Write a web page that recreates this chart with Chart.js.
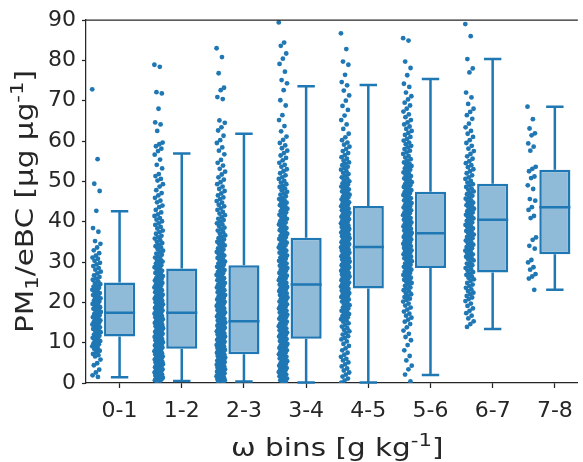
<!DOCTYPE html>
<html>
<head>
<meta charset="utf-8">
<script src="https://cdn.jsdelivr.net/npm/chart.js@4.4.0/dist/chart.umd.min.js"></script>
<style>
  html, body { margin: 0; padding: 0; background: #fff; overflow: hidden; }
</style>
</head>
<body>
<canvas id="myChart" width="583" height="462"></canvas>
<script>
// omega bins and box statistics
var bins = ['0-1', '1-2', '2-3', '3-4', '4-5', '5-6', '6-7', '7-8'];
var whiskerLow  = [1.4, 0.5, 0.4, 0.1, 0.1, 2.0, 13.4, 23.1];
var q1          = [11.5, 8.5, 7.1, 11.0, 23.4, 28.5, 27.4, 31.9];
var median      = [17.4, 17.4, 15.3, 24.4, 33.7, 37.1, 40.5, 43.6];
var q3          = [24.9, 28.4, 29.2, 36.0, 43.9, 47.4, 49.4, 52.9];
var whiskerHigh = [42.6, 56.9, 61.8, 73.6, 73.9, 75.4, 80.3, 68.5];
var yTicks = [0, 10, 20, 30, 40, 50, 60, 70, 80, 90];

// PM1/eBC samples per bin
var omega01 = [72.8, 55.5, 49.4, 47.6, 42.7, 38.4, 37.5, 35.2, 34.5, 33.6, 32.9, 32.2, 31.6, 31.1, 30.8, 30.3, 29.8, 29.4, 29.0, 28.5, 28.1, 27.6, 27.2, 26.7, 26.3, 25.9, 25.6, 25.2, 24.8, 24.5, 24.2, 23.9, 23.6, 23.4, 23.1, 22.7, 22.6, 22.3, 22.0, 21.8, 21.5, 21.1, 21.0, 20.7, 20.4, 20.2, 19.9, 19.6, 19.4, 19.1, 18.8, 18.6, 18.4, 18.1, 17.9, 17.6, 17.4, 17.1, 16.8, 16.7, 16.3, 16.2, 15.9, 15.5, 15.4, 15.1, 14.9, 14.8, 14.5, 14.3, 14.0, 13.8, 13.5, 13.4, 13.1, 12.9, 12.6, 12.2, 12.0, 11.7, 11.3, 11.2, 10.9, 10.5, 10.4, 10.1, 9.8, 9.6, 9.3, 9.1, 8.7, 8.4, 8.0, 7.7, 7.2, 6.9, 6.6, 5.8, 4.9, 4.4, 3.3, 2.6, 1.9, 1.5];
var omega12 = [78.9, 78.4, 72.1, 71.8, 68.0, 64.6, 64.1, 62.5, 59.6, 59.2, 58.7, 58.1, 57.5, 56.6, 55.4, 54.1, 53.2, 51.8, 51.3, 50.6, 50.2, 49.3, 48.7, 47.8, 47.1, 46.5, 45.9, 45.2,
  44.8, 44.0, 43.6, 42.9, 42.3, 41.8, 41.4, 40.9, 40.5, 40.1,
  39.6, 39.2, 38.7, 38.3, 37.8, 37.4, 37.0, 36.5, 36.1, 35.8, 35.4, 35.0,
  34.7, 34.3, 33.9, 33.6, 33.2, 32.8, 32.5, 32.1, 31.8, 31.4, 31.1, 30.7, 30.4, 30.1,
  29.8, 29.6, 29.2, 28.9, 28.7, 28.4, 28.1, 27.8, 27.5, 27.3, 27.0, 26.8, 26.5, 26.2, 26.0, 25.8, 25.6, 25.4, 25.2, 25.0,
  24.8, 24.6, 24.3, 24.1, 23.9, 23.7, 23.4, 23.2, 23.0, 22.8, 22.5, 22.3, 22.1, 21.9, 21.7, 21.5, 21.3, 21.1, 20.9, 20.7, 20.5, 20.4, 20.2, 20.0,
  19.8, 19.7, 19.5, 19.3, 19.1, 18.9, 18.8, 18.6, 18.4, 18.2, 18.0, 17.9, 17.7, 17.5, 17.3, 17.2, 17.0, 16.8, 16.6, 16.5, 16.3, 16.1, 15.9, 15.8, 15.6, 15.4, 15.2, 15.1,
  14.9, 14.7, 14.6, 14.4, 14.2, 14.1, 13.9, 13.7, 13.6, 13.4, 13.2, 13.1, 12.9, 12.7, 12.6, 12.4, 12.2, 12.1, 11.9, 11.7, 11.6, 11.4, 11.2, 11.1, 10.9, 10.7, 10.6, 10.4, 10.2, 10.1,
  9.9, 9.8, 9.6, 9.4, 9.3, 9.1, 8.9, 8.8, 8.6, 8.4, 8.3, 8.1, 7.9, 7.8, 7.6, 7.4, 7.3, 7.1, 6.9, 6.8, 6.6, 6.4, 6.3, 6.1, 5.9, 5.8, 5.6, 5.4, 5.3, 5.2, 5.1, 5.0,
  4.9, 4.7, 4.6, 4.4, 4.3, 4.1, 3.9, 3.8, 3.6, 3.4, 3.3, 3.1, 2.9, 2.8, 2.6, 2.4, 2.3, 2.1, 1.9, 1.8, 1.6, 1.5, 1.3, 1.2, 1.0, 0.9, 0.8, 0.7, 0.6, 0.5];
var omega23 = [83.0, 80.8, 76.8, 73.2, 72.6, 70.9, 70.4, 65.1, 64.5, 63.4, 62.6, 61.3, 60.2, 59.5, 58.4, 57.6, 56.7, 55.3, 54.6, 53.9, 53.1, 52.4, 51.7, 51.0, 50.4,
  49.8, 49.3, 48.7, 48.1, 47.6, 47.0, 46.5, 46.0, 45.6, 45.1,
  44.7, 44.2, 43.8, 43.3, 42.9, 42.4, 42.0, 41.6, 41.1, 40.7, 40.4, 40.0,
  39.6, 39.3, 38.9, 38.5, 38.1, 37.8, 37.4, 37.0, 36.6, 36.3, 35.9, 35.6, 35.3, 35.0,
  34.7, 34.4, 34.1, 33.7, 33.4, 33.1, 32.8, 32.5, 32.2, 31.9, 31.6, 31.3, 31.0, 30.7, 30.4, 30.1,
  29.8, 29.6, 29.3, 29.1, 28.8, 28.6, 28.3, 28.0, 27.8, 27.5, 27.3, 27.0, 26.8, 26.5, 26.2, 26.0, 25.7, 25.5, 25.3, 25.1,
  24.8, 24.6, 24.4, 24.1, 23.9, 23.7, 23.5, 23.2, 23.0, 22.8, 22.5, 22.3, 22.1, 21.8, 21.6, 21.4, 21.1, 20.9, 20.7, 20.5, 20.3, 20.1,
  19.9, 19.7, 19.5, 19.3, 19.1, 18.9, 18.7, 18.5, 18.3, 18.1, 17.9, 17.7, 17.5, 17.3, 17.1, 16.9, 16.7, 16.5, 16.3, 16.1, 15.9, 15.7, 15.5, 15.4, 15.2, 15.0,
  14.8, 14.7, 14.5, 14.3, 14.2, 14.0, 13.8, 13.7, 13.5, 13.3, 13.2, 13.0, 12.8, 12.7, 12.5, 12.3, 12.2, 12.0, 11.8, 11.7, 11.5, 11.3, 11.2, 11.0, 10.8, 10.7, 10.5, 10.3, 10.2, 10.0,
  9.9, 9.7, 9.6, 9.4, 9.3, 9.1, 9.0, 8.8, 8.7, 8.5, 8.4, 8.2, 8.1, 7.9, 7.8, 7.6, 7.5, 7.3, 7.2, 7.0, 6.9, 6.7, 6.6, 6.4, 6.3, 6.1, 6.0, 5.8, 5.7, 5.5, 5.4, 5.3, 5.2, 5.0,
  4.9, 4.8, 4.6, 4.5, 4.4, 4.2, 4.1, 4.0, 3.8, 3.7, 3.6, 3.4, 3.3, 3.2, 3.0, 2.9, 2.8, 2.6, 2.5, 2.4, 2.2, 2.1, 2.0, 1.8, 1.7, 1.6, 1.4, 1.3, 1.2, 1.0, 0.9, 0.8, 0.7, 0.6, 0.5, 0.4];
var omega34 = [89.4, 84.4, 83.6, 81.7, 80.4, 79.1, 77.2, 75.1, 74.3, 72.6, 70.1, 68.8, 66.4, 65.2, 63.7, 62.4, 61.1, 60.3,
  59.5, 58.9, 58.2, 57.6, 57.0, 56.4, 55.8, 55.2,
  54.6, 54.1, 53.6, 53.0, 52.5, 52.0, 51.5, 51.0, 50.6, 50.1,
  49.7, 49.3, 48.9, 48.6, 48.2, 47.8, 47.4, 47.0, 46.7, 46.3, 45.9, 45.6, 45.3, 45.0,
  44.7, 44.4, 44.1, 43.8, 43.5, 43.2, 42.9, 42.6, 42.3, 42.0, 41.7, 41.4, 41.0, 40.7, 40.4, 40.1,
  39.8, 39.5, 39.3, 39.0, 38.7, 38.4, 38.2, 37.9, 37.6, 37.3, 37.0, 36.8, 36.5, 36.2, 35.9, 35.7, 35.4, 35.1,
  34.8, 34.6, 34.3, 34.1, 33.8, 33.6, 33.3, 33.1, 32.8, 32.6, 32.3, 32.1, 31.8, 31.6, 31.3, 31.1, 30.8, 30.6, 30.3, 30.1,
  29.8, 29.6, 29.4, 29.1, 28.9, 28.7, 28.5, 28.2, 28.0, 27.8, 27.5, 27.3, 27.1, 26.9, 26.6, 26.4, 26.2, 25.9, 25.7, 25.5, 25.3, 25.0,
  24.8, 24.6, 24.4, 24.2, 24.0, 23.8, 23.6, 23.4, 23.2, 23.0, 22.8, 22.6, 22.4, 22.2, 22.0, 21.8, 21.6, 21.4, 21.2, 21.0, 20.8, 20.6, 20.4, 20.2,
  19.9, 19.7, 19.5, 19.3, 19.1, 18.9, 18.7, 18.5, 18.3, 18.1, 17.9, 17.7, 17.5, 17.3, 17.1, 16.9, 16.7, 16.5, 16.3, 16.1, 15.9, 15.7, 15.5, 15.2,
  14.9, 14.7, 14.5, 14.3, 14.1, 13.9, 13.7, 13.5, 13.3, 13.1, 12.9, 12.7, 12.5, 12.3, 12.1, 11.9, 11.7, 11.5, 11.3, 11.1, 10.9, 10.7, 10.4, 10.2,
  9.9, 9.7, 9.5, 9.3, 9.1, 8.9, 8.7, 8.5, 8.3, 8.1, 7.9, 7.7, 7.5, 7.3, 7.1, 6.9, 6.7, 6.5, 6.3, 6.1, 5.9, 5.7, 5.4, 5.2,
  4.9, 4.7, 4.5, 4.3, 4.1, 3.9, 3.7, 3.5, 3.3, 3.1, 2.9, 2.7, 2.5, 2.3, 2.1, 1.9, 1.7, 1.5, 1.3, 1.1, 0.9, 0.7, 0.4, 0.1];
var omega45 = [86.7, 82.8, 79.7, 78.9, 76.4, 74.6, 73.8, 72.5, 71.3, 70.0, 68.7, 67.7, 66.3, 65.2, 64.1, 63.0, 61.8, 60.9, 60.2,
  59.6, 59.1, 58.6, 58.0, 57.5, 57.0, 56.5, 56.0, 55.6, 55.1,
  54.7, 54.4, 54.0, 53.6, 53.3, 52.9, 52.5, 52.1, 51.8, 51.4, 51.0, 50.7, 50.3, 50.0,
  49.7, 49.5, 49.2, 49.0, 48.7, 48.5, 48.2, 48.0, 47.7, 47.5, 47.2, 47.0, 46.7, 46.5, 46.2, 46.0, 45.7, 45.5, 45.2, 45.0,
  44.8, 44.6, 44.4, 44.2, 44.0, 43.8, 43.6, 43.4, 43.2, 43.0, 42.8, 42.6, 42.4, 42.2, 42.0, 41.8, 41.6, 41.4, 41.2, 41.0, 40.8, 40.6, 40.4, 40.2,
  39.9, 39.7, 39.6, 39.4, 39.2, 39.0, 38.9, 38.7, 38.5, 38.3, 38.2, 38.0, 37.8, 37.6, 37.5, 37.3, 37.1, 36.9, 36.8, 36.6, 36.4, 36.2, 36.1, 35.9, 35.7, 35.5, 35.4, 35.2,
  34.9, 34.8, 34.6, 34.4, 34.3, 34.1, 33.9, 33.8, 33.6, 33.4, 33.3, 33.1, 32.9, 32.8, 32.6, 32.4, 32.3, 32.1, 31.9, 31.8, 31.6, 31.4, 31.3, 31.1, 30.9, 30.8, 30.6, 30.4, 30.3, 30.1,
  29.9, 29.7, 29.6, 29.4, 29.2, 29.0, 28.9, 28.7, 28.5, 28.3, 28.2, 28.0, 27.8, 27.6, 27.5, 27.3, 27.1, 26.9, 26.8, 26.6, 26.4, 26.2, 26.1, 25.9, 25.7, 25.5, 25.4, 25.2,
  24.9, 24.7, 24.5, 24.3, 24.1, 23.9, 23.7, 23.5, 23.3, 23.1, 22.9, 22.7, 22.5, 22.3, 22.1, 21.9, 21.7, 21.5, 21.3, 21.1, 20.9, 20.7, 20.5, 20.2,
  19.8, 19.5, 19.3, 19.0, 18.7, 18.5, 18.2, 17.9, 17.7, 17.4, 17.1, 16.9, 16.6, 16.3, 16.1, 15.8, 15.5, 15.2,
  14.8, 14.4, 14.0, 13.6, 13.2, 12.8, 12.4, 12.0, 11.6, 11.2, 10.8, 10.3,
  9.7, 9.2, 8.6, 8.1, 7.5, 7.0, 6.5, 6.0, 5.6, 5.1,
  4.6, 4.1, 3.6, 3.1, 2.6, 2.1, 1.6, 1.1, 0.6, 0.1];
var omega56 = [85.5, 84.9, 79.7, 78.1, 76.3, 74.2, 73.4, 72.0, 71.1, 70.3,
  69.5, 68.8, 68.0, 67.3, 66.6, 65.9, 65.2,
  64.6, 64.1, 63.6, 63.0, 62.5, 62.0, 61.5, 61.0, 60.5, 60.1,
  59.6, 59.2, 58.8, 58.4, 58.0, 57.6, 57.2, 56.8, 56.3, 55.9, 55.5, 55.1,
  54.7, 54.4, 54.1, 53.8, 53.5, 53.2, 52.9, 52.6, 52.2, 51.9, 51.6, 51.3, 51.0, 50.7, 50.4, 50.1,
  49.8, 49.6, 49.3, 49.1, 48.8, 48.6, 48.3, 48.1, 47.8, 47.6, 47.3, 47.1, 46.8, 46.6, 46.3, 46.1, 45.8, 45.6, 45.3, 45.1,
  44.8, 44.6, 44.4, 44.1, 43.9, 43.7, 43.5, 43.2, 43.0, 42.8, 42.5, 42.3, 42.1, 41.8, 41.6, 41.4, 41.2, 40.9, 40.7, 40.5, 40.3, 40.1,
  39.8, 39.6, 39.4, 39.2, 39.0, 38.8, 38.6, 38.4, 38.2, 38.0, 37.8, 37.6, 37.4, 37.2, 37.0, 36.8, 36.6, 36.4, 36.2, 36.0, 35.8, 35.6, 35.4, 35.2,
  34.9, 34.7, 34.5, 34.3, 34.1, 33.9, 33.7, 33.5, 33.3, 33.1, 32.9, 32.7, 32.5, 32.3, 32.1, 31.9, 31.7, 31.5, 31.3, 31.1, 30.9, 30.7, 30.5, 30.2,
  29.8, 29.6, 29.3, 29.1, 28.8, 28.6, 28.3, 28.1, 27.8, 27.6, 27.3, 27.1, 26.8, 26.6, 26.3, 26.1, 25.8, 25.6, 25.3, 25.1,
  24.8, 24.4, 24.1, 23.7, 23.4, 23.0, 22.7, 22.3, 22.0, 21.6, 21.3, 20.9, 20.6, 20.2,
  19.7, 19.2, 18.7, 18.2, 17.7, 17.2, 16.7, 16.2, 15.7, 15.2,
  14.6, 13.8, 13.0, 12.2, 11.4, 10.6,
  9.4, 8.1, 6.7, 5.6, 4.3, 3.4, 2.1, 0.4];
var omega67 = [89.0, 86.0, 80.3, 78.0, 77.0, 72.0, 70.8, 69.2, 68.0, 67.2, 66.4, 65.5,
  64.3, 63.4, 62.5, 61.8, 61.0, 60.2,
  59.5, 58.8, 58.1, 57.5, 56.8, 56.2, 55.6, 55.0,
  54.5, 54.0, 53.5, 53.0, 52.5, 52.0, 51.5, 51.0, 50.6, 50.1,
  49.7, 49.3, 49.0, 48.6, 48.2, 47.9, 47.5, 47.1, 46.8, 46.4, 46.0, 45.7, 45.3, 45.0,
  44.7, 44.4, 44.1, 43.8, 43.5, 43.2, 42.9, 42.6, 42.3, 42.0, 41.7, 41.4, 41.1, 40.8, 40.5, 40.2,
  39.8, 39.5, 39.2, 38.9, 38.6, 38.3, 38.0, 37.7, 37.4, 37.1, 36.8, 36.5, 36.2, 35.9, 35.6, 35.3,
  34.9, 34.6, 34.3, 34.0, 33.7, 33.4, 33.1, 32.8, 32.5, 32.2, 31.9, 31.6, 31.3, 31.0, 30.7, 30.4,
  29.9, 29.6, 29.2, 28.9, 28.5, 28.2, 27.8, 27.5, 27.1, 26.8, 26.4, 26.1, 25.7, 25.3,
  24.8, 24.4, 24.0, 23.6, 23.2, 22.8, 22.4, 22.0, 21.6, 21.2, 20.8, 20.3,
  19.7, 19.1, 18.5, 17.9, 17.3, 16.7, 16.0, 15.3, 14.6, 13.9];
var omega78 = [68.5, 65.4, 63.1, 61.9, 61.4, 59.4, 58.6, 57.6, 53.6, 53.1, 52.5, 51.2, 50.8, 49.0, 48.1, 45.6, 45.2, 43.6, 42.9, 41.4, 40.9, 36.1, 35.5, 34.0, 33.3, 30.5, 29.9, 28.7, 28.1, 27.0, 26.4, 25.9, 23.1];
var samples = [omega01, omega12, omega23, omega34, omega45, omega56, omega67, omega78];

// axis titles, split so the scripts can be set smaller
var xTitle = [{ text: 'ω bins [g kg' }, { text: '-1', sup: true }, { text: ']' }];
var yTitle = [{ text: 'PM' }, { text: '1', sub: true }, { text: '/eBC [μg μg' }, { text: '-1', sup: true }, { text: ']' }];

var blue = '#1f77b4';
var boxFill = '#8fbbd9';
var ink = '#262626';
var titleSize = 25;
var titleStretch = 1.18;

// strip sits left of each box, spread a little sideways
var stripOffset = -0.37;
var stripWidth = 0.14;
var stripPoints = [];
samples.forEach(function (vals, b) {
    vals.forEach(function (v, i) {
        var spread = ((i * 0.618034) % 1) - 0.5;
        stripPoints.push({ x: b + stripOffset + spread * stripWidth, y: v });
    });
});

// text centred on the origin, baseline at y = 0, widened along the line
function drawScripted(ctx, parts, size) {
    var small = Math.round(size * 0.7);
    var fontFor = function (p) {
        return (p.sub || p.sup ? small : size) + 'px "DejaVu Sans"';
    };
    var widths = parts.map(function (p) {
        ctx.font = fontFor(p);
        return ctx.measureText(p.text).width;
    });
    var pos = -widths.reduce(function (a, b) { return a + b; }, 0) / 2;
    ctx.scale(titleStretch, 1);
    ctx.fillStyle = ink;
    ctx.textAlign = 'left';
    ctx.textBaseline = 'alphabetic';
    parts.forEach(function (p, i) {
        ctx.font = fontFor(p);
        var shift = p.sub ? size * 0.2 : (p.sup ? -size * 0.42 : 0);
        ctx.fillText(p.text, pos, shift);
        pos += widths[i];
    });
}

// whiskers, caps and median lines on top of the boxes, plus frame and titles
var boxLines = {
    id: 'boxLines',
    afterDatasetsDraw: function (chart) {
        var ctx = chart.ctx, x = chart.scales.x, y = chart.scales.y, area = chart.chartArea;
        ctx.save();
        ctx.strokeStyle = blue;
        ctx.lineWidth = 2.5;
        bins.forEach(function (_, i) {
            var cx = x.getPixelForValue(i);
            var capL = x.getPixelForValue(i - 0.14), capR = x.getPixelForValue(i + 0.14);
            var boxL = x.getPixelForValue(i - 0.25), boxR = x.getPixelForValue(i + 0.25);
            ctx.beginPath();
            ctx.moveTo(cx, y.getPixelForValue(q1[i]));
            ctx.lineTo(cx, y.getPixelForValue(whiskerLow[i]));
            ctx.moveTo(cx, y.getPixelForValue(q3[i]));
            ctx.lineTo(cx, y.getPixelForValue(whiskerHigh[i]));
            ctx.moveTo(capL, y.getPixelForValue(whiskerLow[i]));
            ctx.lineTo(capR, y.getPixelForValue(whiskerLow[i]));
            ctx.moveTo(capL, y.getPixelForValue(whiskerHigh[i]));
            ctx.lineTo(capR, y.getPixelForValue(whiskerHigh[i]));
            ctx.moveTo(boxL, y.getPixelForValue(median[i]));
            ctx.lineTo(boxR, y.getPixelForValue(median[i]));
            ctx.stroke();
        });
        // top spine
        ctx.strokeStyle = ink;
        ctx.lineWidth = 1.25;
        ctx.beginPath();
        ctx.moveTo(area.left, area.top);
        ctx.lineTo(area.right, area.top);
        ctx.stroke();
        ctx.restore();
    },
    afterDraw: function (chart) {
        var ctx = chart.ctx, x = chart.scales.x, area = chart.chartArea;
        ctx.save();
        ctx.translate(x.getPixelForValue((bins.length - 1) / 2), chart.height - 6);
        drawScripted(ctx, xTitle, titleSize);
        ctx.restore();
        ctx.save();
        ctx.translate(33, (area.top + area.bottom) / 2);
        ctx.rotate(-Math.PI / 2);
        drawScripted(ctx, yTitle, titleSize);
        ctx.restore();
    }
};

Chart.defaults.font.family = 'DejaVu Sans';
Chart.defaults.color = ink;

var ctx = document.getElementById('myChart').getContext('2d');
var myChart = new Chart(ctx, {
    type: 'bar',
    data: {
        datasets: [{
            type: 'scatter',
            data: stripPoints,
            backgroundColor: blue,
            pointRadius: 2.4,
            pointBorderWidth: 0,
            order: 1
        }, {
            type: 'bar',
            data: bins.map(function (_, i) { return { x: i, y: [q1[i], q3[i]] }; }),
            backgroundColor: boxFill,
            borderColor: blue,
            borderWidth: 2.5,
            borderSkipped: false,
            categoryPercentage: 1,
            barPercentage: 0.5,
            order: 0
        }]
    },
    options: {
        responsive: false,
        devicePixelRatio: 1,
        animation: false,
        layout: { padding: { top: 20, right: 0, bottom: 0, left: 0 } },
        plugins: {
            legend: { display: false },
            tooltip: { enabled: false }
        },
        scales: {
            x: {
                type: 'linear',
                min: -0.54,
                max: 7.37,
                offset: false,
                afterBuildTicks: function (scale) {
                    scale.ticks = bins.map(function (_, i) { return { value: i }; });
                },
                afterFit: function (scale) { scale.height = 79; },
                ticks: {
                    autoSkip: false,
                    maxRotation: 0,
                    padding: 10,
                    font: { size: 22 },
                    callback: function (value) { return bins[value]; }
                },
                grid: {
                    offset: false,
                    drawOnChartArea: false,
                    drawTicks: true,
                    tickLength: 5,
                    tickColor: ink,
                    tickWidth: 1.25
                },
                border: { color: ink, width: 1.25 }
            },
            y: {
                min: 0,
                max: 90,
                afterBuildTicks: function (scale) {
                    scale.ticks = yTicks.map(function (v) { return { value: v }; });
                },
                afterFit: function (scale) { scale.width = 86; },
                ticks: {
                    padding: 6,
                    font: { size: 22 }
                },
                grid: {
                    drawOnChartArea: false,
                    drawTicks: true,
                    tickLength: 4,
                    tickColor: ink,
                    tickWidth: 1.25
                },
                border: { color: ink, width: 1.25 }
            }
        }
    },
    plugins: [boxLines]
});
</script>
</body>
</html>
